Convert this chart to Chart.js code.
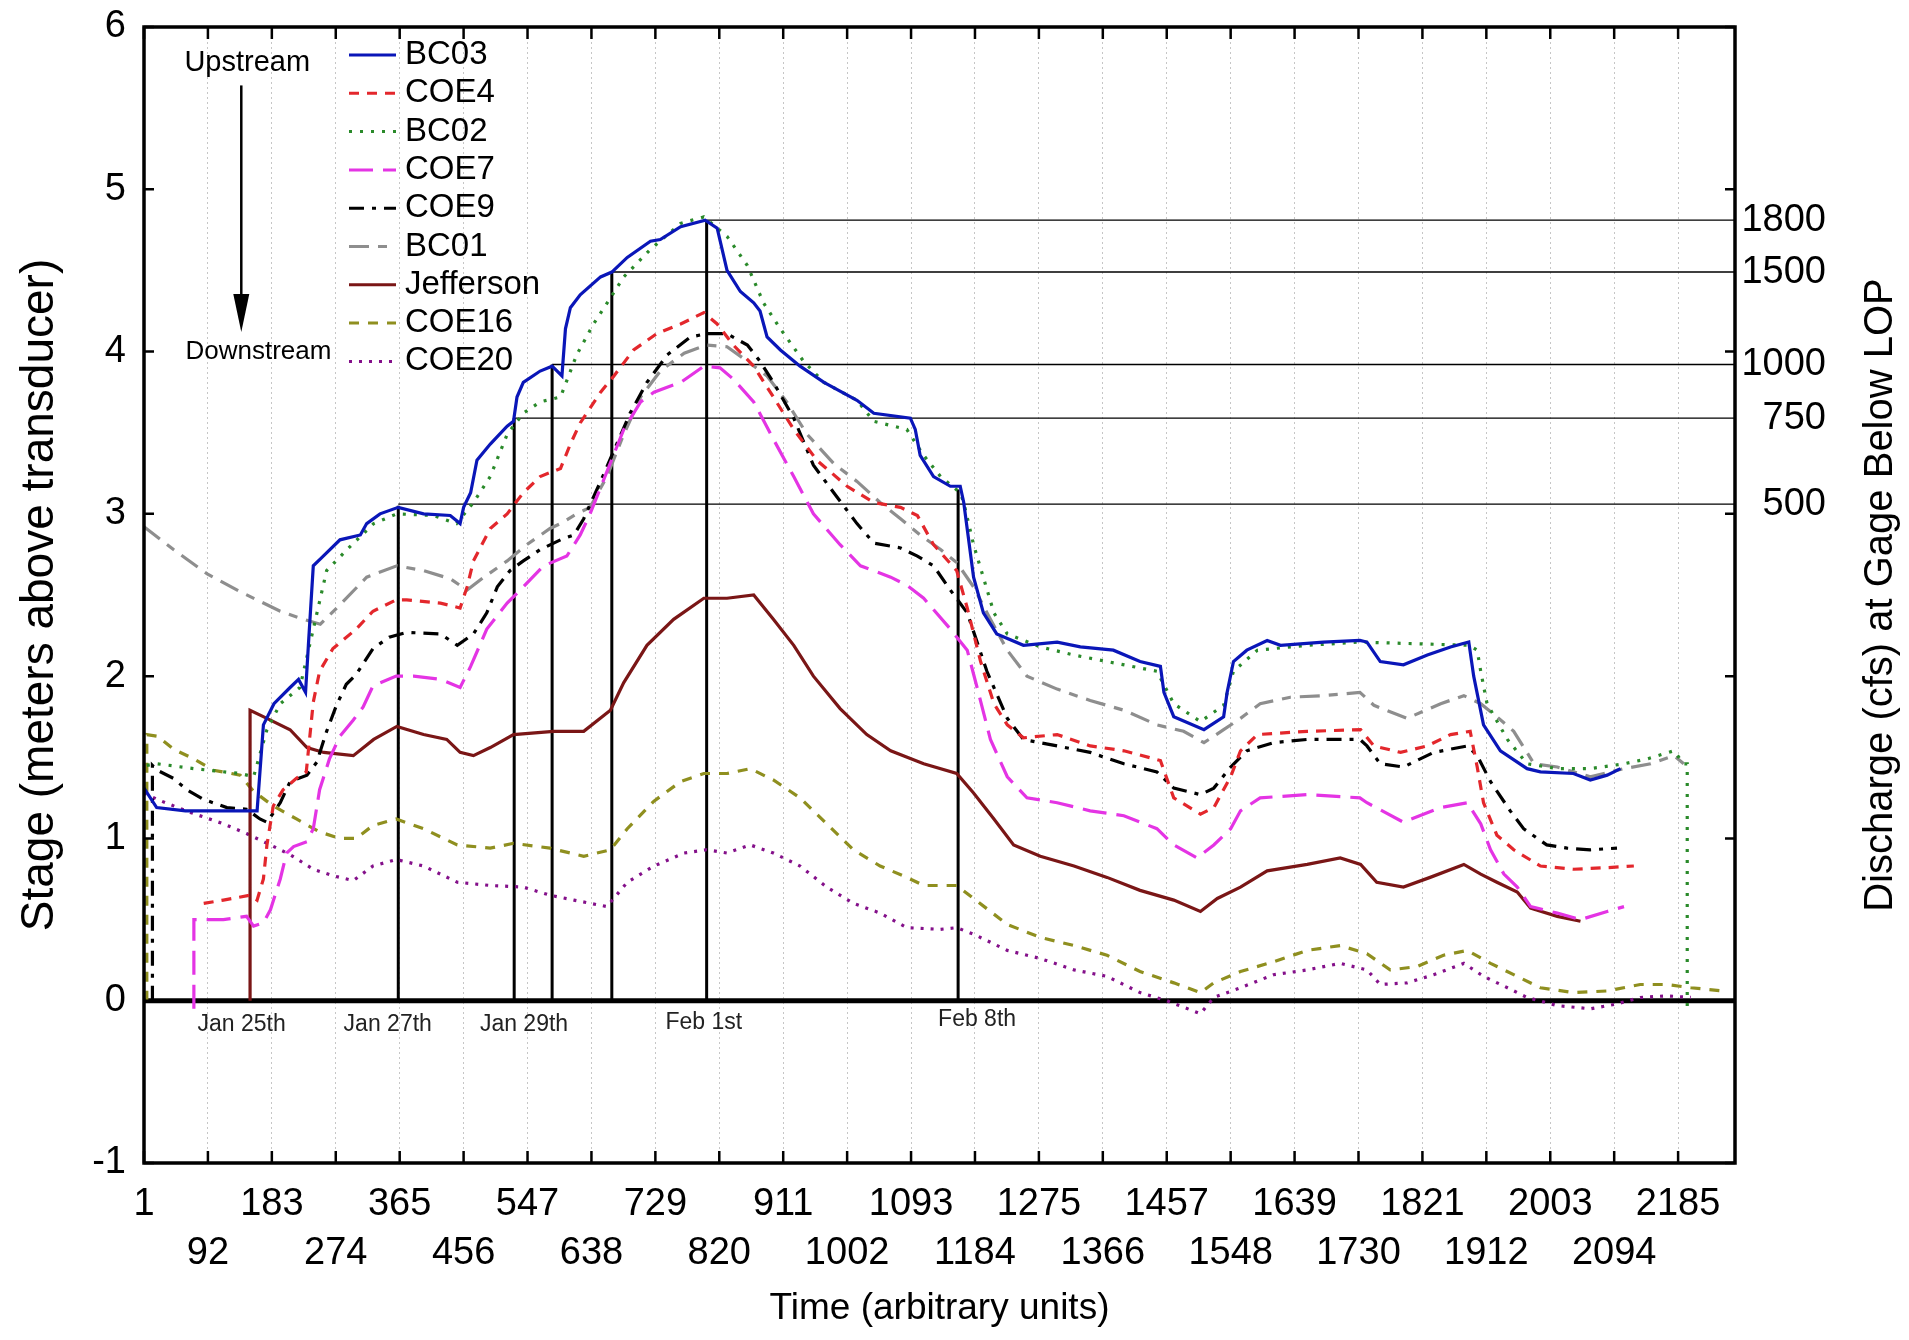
<!DOCTYPE html>
<html>
<head>
<meta charset="utf-8">
<script src="https://cdn.jsdelivr.net/npm/chart.js@4.4.1/dist/chart.umd.min.js"></script>
<style>
  html, body { margin: 0; padding: 0; background: #fff; }
  #wrap { width: 1909px; height: 1340px; position: relative; }
</style>
</head>
<body>
<div id="wrap"><canvas id="stageChart"></canvas></div>
<script>
// axis ticks
const timeTicks = [1, 92, 183, 274, 365, 456, 547, 638, 729, 820, 911, 1002, 1093,
    1184, 1275, 1366, 1457, 1548, 1639, 1730, 1821, 1912, 2003, 2094, 2185];
const stageTicks = [-1, 0, 1, 2, 3, 4, 5, 6];
const timeMin = 1;
const timeMax = 2266;

// series, [time, stage (m)]
const bc03 = [[1,1.31],[19,1.19],[60,1.17],[100,1.17],[152,1.17],[162,1.17],[171,1.70],[186,1.83],[209,1.93],
    [221,1.98],[231,1.90],[235,2.19],[242,2.68],[254,2.73],[280,2.84],[309,2.87],[318,2.94],[337,3.00],[363,3.04],
    [399,3.00],[437,2.99],[451,2.94],[456,3.04],[466,3.13],[475,3.33],[494,3.43],[518,3.54],[527,3.57],[532,3.72],
    [541,3.81],[565,3.88],[582,3.91],[596,3.85],[601,4.14],[608,4.27],[622,4.35],[651,4.46],[667,4.49],[689,4.58],
    [722,4.68],[736,4.69],[765,4.77],[800,4.81],[817,4.76],[831,4.50],[850,4.37],[869,4.30],[878,4.25],[888,4.09],
    [907,4.01],[935,3.91],[969,3.81],[1016,3.70],[1040,3.62],[1092,3.59],[1099,3.52],[1106,3.36],[1125,3.23],
    [1149,3.17],[1163,3.17],[1168,3.07],[1182,2.61],[1196,2.39],[1215,2.26],[1253,2.19],[1301,2.21],[1334,2.18],
    [1381,2.16],[1419,2.09],[1448,2.06],[1453,1.90],[1467,1.75],[1510,1.67],[1538,1.75],[1543,1.90],[1552,2.09],
    [1571,2.16],[1600,2.22],[1619,2.19],[1680,2.21],[1732,2.22],[1742,2.21],[1761,2.09],[1794,2.07],[1828,2.13],
    [1861,2.18],[1887,2.21],[1894,2.00],[1908,1.70],[1932,1.54],[1970,1.43],[1989,1.41],[2036,1.40],[2060,1.36],
    [2084,1.39],[2103,1.43]];
const coe4 = [[86,0.60],[114,0.62],[152,0.65],[162,0.62],[171,0.75],[176,0.96],[185,1.20],[199,1.30],[218,1.37],
    [232,1.41],[242,1.84],[251,2.03],[270,2.17],[303,2.29],[327,2.40],[360,2.47],[375,2.47],[423,2.45],[451,2.42],
    [461,2.55],[470,2.71],[494,2.91],[518,3.00],[541,3.13],[565,3.23],[594,3.28],[608,3.43],[622,3.56],[651,3.75],
    [670,3.85],[698,4.01],[731,4.11],[765,4.17],[798,4.24],[817,4.17],[840,4.04],[869,3.91],[897,3.72],[926,3.52],
    [959,3.33],[1002,3.17],[1040,3.07],[1078,3.04],[1102,2.99],[1125,2.81],[1158,2.65],[1173,2.42],[1192,2.09],
    [1211,1.83],[1230,1.70],[1253,1.62],[1301,1.64],[1348,1.57],[1396,1.54],[1448,1.48],[1467,1.25],[1505,1.15],
    [1524,1.19],[1548,1.38],[1562,1.54],[1586,1.64],[1657,1.66],[1733,1.67],[1752,1.57],[1790,1.53],[1828,1.57],
    [1861,1.64],[1889,1.66],[1899,1.44],[1908,1.22],[1927,1.02],[1951,0.93],[1989,0.83],[2036,0.81],[2084,0.82],
    [2122,0.83]];
const bc02 = [[5,1.45],[20,1.46],[72,1.43],[138,1.40],[157,1.38],[176,1.67],[195,1.83],[223,1.93],[242,2.29],
    [261,2.65],[290,2.78],[328,2.94],[361,3.00],[413,2.99],[446,2.94],[470,3.07],[494,3.23],[518,3.49],[541,3.62],
    [565,3.69],[594,3.72],[617,3.98],[641,4.17],[665,4.33],[684,4.46],[722,4.63],[765,4.79],[798,4.83],[831,4.71],
    [860,4.53],[883,4.30],[907,4.14],[940,3.94],[969,3.81],[1016,3.70],[1040,3.57],[1087,3.52],[1111,3.36],
    [1135,3.23],[1163,3.13],[1168,3.07],[1182,2.81],[1211,2.39],[1230,2.26],[1277,2.18],[1325,2.13],[1372,2.09],
    [1443,2.03],[1467,1.83],[1505,1.72],[1538,1.82],[1552,2.03],[1586,2.16],[1657,2.19],[1732,2.21],[1887,2.19],
    [1899,2.16],[1904,2.03],[1913,1.83],[1942,1.61],[1970,1.46],[2013,1.43],[2060,1.43],[2108,1.46],[2141,1.49],
    [2179,1.54],[2193,1.46],[2198,1.46],[2198,-0.05]];
const coe7 = [[72,-0.05],[72,0.50],[114,0.50],[147,0.52],[157,0.46],[171,0.48],[181,0.56],[195,0.75],[204,0.91],
    [214,0.95],[233,0.98],[242,1.06],[251,1.30],[265,1.49],[280,1.63],[299,1.73],[313,1.81],[327,1.94],[360,2.00],
    [385,2.00],[423,1.98],[451,1.93],[466,2.06],[489,2.29],[518,2.45],[541,2.55],[570,2.68],[603,2.74],[622,2.87],
    [636,3.00],[660,3.26],[684,3.52],[708,3.69],[727,3.75],[765,3.81],[798,3.91],[821,3.90],[840,3.83],[869,3.69],
    [897,3.46],[926,3.23],[954,3.00],[992,2.81],[1021,2.68],[1064,2.61],[1087,2.56],[1111,2.48],[1149,2.29],
    [1173,2.16],[1187,1.93],[1206,1.61],[1230,1.38],[1258,1.25],[1301,1.22],[1348,1.17],[1396,1.14],[1443,1.06],
    [1467,0.96],[1500,0.88],[1524,0.96],[1548,1.06],[1562,1.17],[1590,1.25],[1657,1.27],[1732,1.25],[1742,1.22],
    [1794,1.10],[1847,1.19],[1885,1.22],[1904,1.09],[1918,0.93],[1937,0.78],[1956,0.70],[1975,0.58],[2013,0.54],
    [2046,0.50],[2084,0.55],[2108,0.58]];
const coe9 = [[13,0],[13,1.45],[20,1.42],[43,1.37],[62,1.30],[86,1.24],[119,1.19],[147,1.18],[166,1.12],[176,1.10],
    [195,1.22],[209,1.35],[233,1.39],[247,1.47],[261,1.66],[275,1.82],[289,1.95],[303,2.01],[327,2.17],[350,2.24],
    [375,2.27],[423,2.26],[447,2.19],[470,2.26],[489,2.39],[504,2.55],[522,2.65],[541,2.71],[565,2.78],[594,2.84],
    [613,2.87],[627,2.97],[651,3.20],[670,3.39],[693,3.62],[717,3.81],[746,3.98],[779,4.09],[802,4.11],[831,4.11],
    [860,4.04],[878,3.94],[897,3.81],[926,3.59],[954,3.30],[983,3.13],[1016,2.94],[1040,2.82],[1078,2.79],
    [1102,2.74],[1125,2.68],[1149,2.53],[1173,2.39],[1201,2.03],[1230,1.74],[1253,1.61],[1301,1.57],[1348,1.53],
    [1396,1.46],[1443,1.41],[1467,1.31],[1505,1.27],[1524,1.31],[1548,1.44],[1571,1.54],[1609,1.59],[1657,1.61],
    [1732,1.61],[1742,1.57],[1761,1.46],[1794,1.44],[1837,1.53],[1885,1.57],[1899,1.51],[1918,1.35],[1946,1.17],
    [1965,1.06],[1998,0.96],[2027,0.94],[2060,0.93],[2098,0.94]];
const bc01 = [[1,2.92],[43,2.78],[91,2.63],[138,2.52],[195,2.40],[228,2.35],[252,2.32],[280,2.44],[318,2.61],
    [361,2.68],[399,2.65],[437,2.60],[461,2.53],[485,2.61],[518,2.71],[546,2.81],[579,2.91],[594,2.94],[617,3.00],
    [636,3.04],[660,3.23],[684,3.49],[708,3.72],[736,3.88],[770,3.99],[802,4.04],[831,4.03],[860,3.94],[888,3.85],
    [916,3.69],[945,3.49],[983,3.31],[1016,3.20],[1049,3.07],[1078,2.97],[1106,2.87],[1135,2.78],[1158,2.70],
    [1182,2.55],[1206,2.35],[1230,2.16],[1258,2.00],[1301,1.92],[1348,1.85],[1396,1.79],[1443,1.70],[1481,1.66],
    [1510,1.59],[1538,1.67],[1562,1.74],[1590,1.83],[1633,1.87],[1680,1.88],[1732,1.90],[1752,1.82],[1799,1.74],
    [1847,1.83],[1880,1.88],[1904,1.83],[1927,1.75],[1951,1.66],[1980,1.46],[2013,1.44],[2060,1.38],[2108,1.43],
    [2146,1.46],[2179,1.51],[2193,1.46]];
const jefferson = [[152,0],[152,1.79],[176,1.74],[209,1.67],[233,1.56],[257,1.53],[299,1.51],[328,1.61],[361,1.69],
    [399,1.64],[432,1.61],[451,1.53],[470,1.51],[494,1.56],[527,1.64],[584,1.66],[627,1.66],[665,1.79],[684,1.96],
    [717,2.19],[755,2.35],[798,2.48],[831,2.48],[869,2.50],[897,2.35],[926,2.19],[954,2.00],[992,1.80],[1030,1.64],
    [1064,1.54],[1111,1.46],[1158,1.40],[1182,1.28],[1211,1.12],[1239,0.96],[1277,0.89],[1325,0.83],[1372,0.76],
    [1419,0.68],[1467,0.62],[1505,0.55],[1529,0.63],[1562,0.70],[1600,0.80],[1657,0.84],[1704,0.88],[1733,0.84],
    [1756,0.73],[1794,0.70],[1832,0.76],[1880,0.84],[1904,0.78],[1927,0.73],[1956,0.67],[1975,0.57],[2013,0.52],
    [2046,0.49]];
const coe16 = [[5,0],[5,1.64],[20,1.63],[43,1.55],[72,1.49],[100,1.42],[138,1.39],[157,1.29],[185,1.20],[218,1.12],
    [251,1.04],[280,1.00],[303,1.00],[327,1.08],[360,1.12],[399,1.06],[447,0.96],[494,0.94],[527,0.97],[579,0.94],
    [627,0.89],[665,0.93],[689,1.06],[727,1.23],[765,1.35],[798,1.40],[831,1.40],[864,1.43],[897,1.36],[935,1.25],
    [973,1.09],[1011,0.93],[1049,0.83],[1087,0.76],[1111,0.71],[1158,0.71],[1182,0.63],[1230,0.47],[1277,0.39],
    [1325,0.34],[1372,0.28],[1419,0.18],[1467,0.11],[1505,0.05],[1524,0.11],[1562,0.18],[1609,0.24],[1657,0.31],
    [1704,0.34],[1742,0.29],[1775,0.19],[1813,0.21],[1851,0.28],[1885,0.31],[1918,0.23],[1956,0.15],[1989,0.08],
    [2036,0.05],[2084,0.06],[2131,0.10],[2169,0.10],[2203,0.08],[2250,0.06]];
const coe20 = [[1,1.28],[20,1.24],[67,1.16],[114,1.09],[147,1.03],[181,0.96],[209,0.90],[242,0.81],[270,0.77],
    [299,0.74],[327,0.83],[360,0.87],[399,0.83],[447,0.73],[494,0.71],[541,0.70],[579,0.65],[613,0.62],[660,0.58],
    [689,0.73],[727,0.83],[770,0.91],[802,0.93],[831,0.91],[864,0.96],[897,0.91],[935,0.83],[973,0.70],[1011,0.60],
    [1049,0.54],[1087,0.45],[1135,0.44],[1158,0.45],[1182,0.41],[1230,0.31],[1277,0.26],[1325,0.19],[1372,0.15],
    [1419,0.05],[1457,0.00],[1505,-0.08],[1524,0.02],[1562,0.08],[1609,0.16],[1657,0.19],[1704,0.23],[1742,0.19],
    [1761,0.10],[1799,0.11],[1837,0.16],[1880,0.23],[1908,0.15],[1942,0.08],[1970,0.02],[2013,-0.03],[2060,-0.05],
    [2098,-0.02],[2131,0.02],[2169,0.03],[2203,0.02]];

const seriesNames = ['BC03', 'COE4', 'BC02', 'COE7', 'COE9', 'BC01', 'Jefferson', 'COE16', 'COE20'];
const seriesData = [bc03, coe4, bc02, coe7, coe9, bc01, jefferson, coe16, coe20];

// discharge steps: vertical marker times, their tops, and flow levels
const eventTimes = [363, 528, 582, 667, 802, 1160];
const eventTops = [3.05, 3.59, 3.92, 4.49, 4.81, 3.15];
const flowStarts = [363, 528, 582, 667, 802];
const flowLevels = [3.06, 3.59, 3.92, 4.49, 4.81];
const flowLabels = ['500', '750', '1000', '1500', '1800'];

const dateLabels = ['Jan 25th', 'Jan 27th', 'Jan 29th', 'Feb 1st', 'Feb 8th'];
const dateTimes = [140, 348, 542, 798, 1187];
const dateStages = [-0.15, -0.15, -0.15, -0.135, -0.115];

// styles
const seriesColors = ['#0a16b8', '#e3272c', '#2a8a2a', '#e434e4', '#000000', '#8e8e8e', '#7a1616', '#8f8f1f', '#84108a'];
const seriesDashes = [[], [10, 8], [3, 8], [24, 10], [15, 8, 4, 8], [20, 9, 9, 9], [], [10, 9], [3, 7]];
const fontFamily = "'Liberation Sans', Arial, sans-serif";

function toPoints(pairs) {
    return pairs.map(p => ({ x: p[0], y: p[1] }));
}

const eventPath = [];
eventTimes.forEach((t, i) => {
    eventPath.push({ x: t, y: 0 }, { x: t, y: eventTops[i] }, { x: t, y: null });
});
const flowPath = [];
flowLevels.forEach((v, i) => {
    flowPath.push({ x: flowStarts[i], y: v }, { x: timeMax, y: v }, { x: timeMax, y: null });
});

const datasets = seriesNames.map((name, i) => ({
    label: name,
    data: toPoints(seriesData[i]),
    borderColor: seriesColors[i],
    borderDash: seriesDashes[i],
    borderWidth: 3.2,
    pointRadius: 0,
    tension: 0,
    fill: false
}));
datasets.push({
    label: 'events', data: eventPath, borderColor: '#000', borderWidth: 3,
    pointRadius: 0, tension: 0, spanGaps: false
});
datasets.push({
    label: 'flows', data: flowPath, borderColor: '#000', borderWidth: 1.4,
    pointRadius: 0, tension: 0, spanGaps: false
});

const decor = {
    id: 'decor',
    beforeDatasetsDraw(chart) {
        const { ctx, chartArea: a, scales: { y } } = chart;
        ctx.save();
        ctx.strokeStyle = '#000';
        ctx.lineWidth = 5;
        const y0 = y.getPixelForValue(0);
        ctx.beginPath();
        ctx.moveTo(a.left, y0);
        ctx.lineTo(a.right, y0);
        ctx.stroke();
        ctx.restore();
    },
    afterDraw(chart) {
        const { ctx, chartArea: a, scales: { x, y } } = chart;
        ctx.save();

        // frame and inward ticks
        ctx.strokeStyle = '#000';
        ctx.lineWidth = 3.5;
        ctx.strokeRect(a.left, a.top, a.right - a.left, a.bottom - a.top);
        ctx.lineWidth = 2.5;
        ctx.beginPath();
        timeTicks.forEach(t => {
            const px = x.getPixelForValue(t);
            ctx.moveTo(px, a.bottom); ctx.lineTo(px, a.bottom - 12);
            ctx.moveTo(px, a.top); ctx.lineTo(px, a.top + 12);
        });
        stageTicks.forEach(v => {
            const py = y.getPixelForValue(v);
            ctx.moveTo(a.left, py); ctx.lineTo(a.left + 10, py);
            ctx.moveTo(a.right, py); ctx.lineTo(a.right - 10, py);
        });
        ctx.stroke();

        // discharge labels on the right, right aligned
        ctx.fillStyle = '#000';
        ctx.font = '38px ' + fontFamily;
        ctx.textAlign = 'right';
        ctx.textBaseline = 'middle';
        flowLevels.forEach((v, i) => {
            ctx.fillText(flowLabels[i], a.right + 91, y.getPixelForValue(v));
        });

        // date labels under the zero line
        ctx.fillStyle = '#222';
        ctx.font = '23px ' + fontFamily;
        ctx.textAlign = 'center';
        dateLabels.forEach((d, i) => {
            ctx.fillText(d, x.getPixelForValue(dateTimes[i]), y.getPixelForValue(dateStages[i]));
        });

        // upstream -> downstream arrow
        const ax = x.getPixelForValue(139.5);
        const ay0 = y.getPixelForValue(5.64);
        const ay1 = y.getPixelForValue(4.12);
        ctx.strokeStyle = '#000';
        ctx.lineWidth = 2.5;
        ctx.beginPath();
        ctx.moveTo(ax, ay0);
        ctx.lineTo(ax, ay1 - 30);
        ctx.stroke();
        ctx.fillStyle = '#000';
        ctx.beginPath();
        ctx.moveTo(ax - 8, ay1 - 38);
        ctx.lineTo(ax + 8, ay1 - 38);
        ctx.lineTo(ax, ay1);
        ctx.closePath();
        ctx.fill();
        ctx.font = '29px ' + fontFamily;
        ctx.fillText('Upstream', x.getPixelForValue(148), y.getPixelForValue(5.78));
        ctx.textAlign = 'left';
        ctx.font = '26px ' + fontFamily;
        ctx.fillText('Downstream', x.getPixelForValue(60), y.getPixelForValue(4.0));

        // legend
        ctx.font = '33px ' + fontFamily;
        seriesNames.forEach((name, i) => {
            const ly = a.top + 28 + i * 38.3;
            ctx.strokeStyle = seriesColors[i];
            ctx.lineWidth = 3;
            ctx.setLineDash(seriesDashes[i]);
            ctx.beginPath();
            ctx.moveTo(a.left + 205, ly);
            ctx.lineTo(a.left + 252, ly);
            ctx.stroke();
            ctx.setLineDash([]);
            ctx.fillStyle = '#000';
            ctx.fillText(name, a.left + 261, ly);
        });

        // right axis title, reading bottom to top
        ctx.translate(chart.width - 28, (a.top + a.bottom) / 2);
        ctx.rotate(-Math.PI / 2);
        ctx.textAlign = 'center';
        ctx.font = '40px ' + fontFamily;
        ctx.fillText('Discharge (cfs) at Gage Below LOP', 0, 0);
        ctx.restore();
    }
};

new Chart(document.getElementById('stageChart'), {
    type: 'line',
    data: { datasets: datasets },
    options: {
        responsive: true,
        maintainAspectRatio: false,
        animation: false,
        layout: { padding: { top: 27, left: 0, right: 0, bottom: 0 } },
        plugins: { legend: { display: false }, tooltip: { enabled: false } },
        scales: {
            x: {
                type: 'linear',
                min: timeMin,
                max: timeMax,
                afterBuildTicks: s => { s.ticks = timeTicks.map(v => ({ value: v })); },
                ticks: {
                    autoSkip: false, maxRotation: 0, minRotation: 0, padding: 17, color: '#000',
                    font: { family: fontFamily, size: 38, lineHeight: 1.29 },
                    callback: (v, i) => i % 2 === 0 ? [String(v), ''] : ['', String(v)]
                },
                grid: { drawTicks: false, color: '#c6c6c6', lineWidth: 1 },
                border: { display: false, dash: [2, 3] },
                title: {
                    display: true, text: 'Time (arbitrary units)', color: '#000',
                    font: { family: fontFamily, size: 37, lineHeight: 1.2 }, padding: { top: 0, bottom: 9 }
                },
                afterFit: s => { s.height = 177; }
            },
            y: {
                min: -1,
                max: 6,
                afterBuildTicks: s => { s.ticks = stageTicks.map(v => ({ value: v })); },
                ticks: { padding: 18, color: '#000', font: { family: fontFamily, size: 38, lineHeight: 0.4 } },
                grid: { display: false, drawTicks: false },
                border: { display: false },
                title: {
                    display: true, text: 'Stage (meters above transducer)', color: '#000',
                    font: { family: fontFamily, size: 46, lineHeight: 1.2 }, padding: { top: 13, bottom: 0 }
                },
                afterFit: s => { s.width = 144; }
            },
            y2: {
                position: 'right',
                min: -1,
                max: 6,
                ticks: { display: false },
                grid: { display: false, drawTicks: false },
                border: { display: false },
                afterFit: s => { s.width = 174; }
            }
        }
    },
    plugins: [decor]
});
</script>
</body>
</html>
